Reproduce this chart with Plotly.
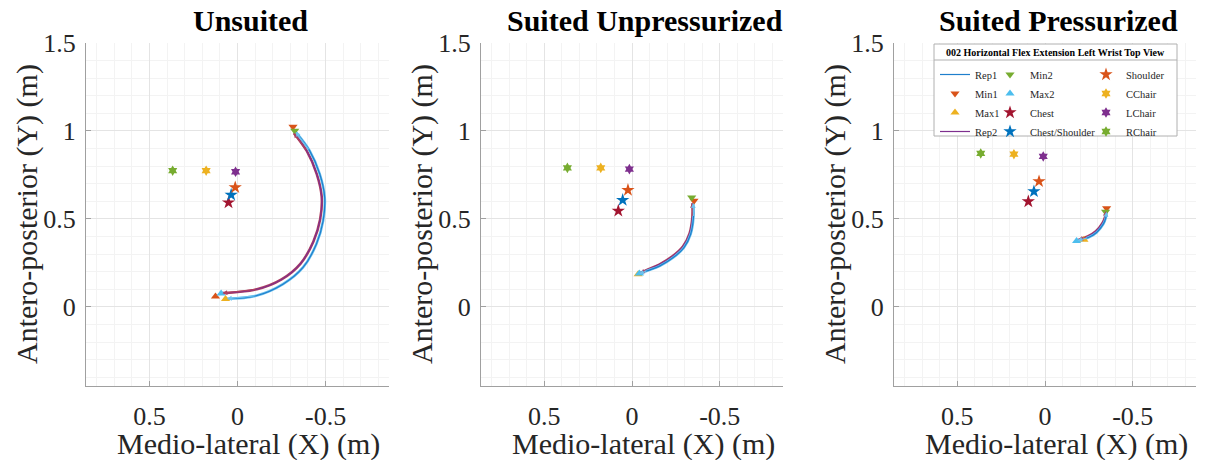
import plotly.graph_objects as go

# the page is shown with the browser's default 8px body margin
OFF = 8
W, H = 1217 - OFF, 460 - OFF
FONT = "Liberation Serif"


def fx(px):
    return (px - OFF) / W


def fy(py):
    return 1 - (py - OFF) / H


# ---------------- data ----------------
panel_titles = ["Unsuited", "Suited Unpressurized", "Suited Pressurized"]
x_label = "Medio-lateral (X) (m)"
y_label = "Antero-posterior (Y) (m)"
legend_title = "002 Horizontal Flex Extension Left Wrist Top View"

x_tick_vals = [0.5, 0, -0.5]
x_tick_text = ["0.5", "0", "-0.5"]
y_tick_vals = [0, 0.5, 1, 1.5]
y_tick_text = ["0", "0.5", "1", "1.5"]

# wrist trajectories (one list per panel)
rep1_x = [
    [-0.330, -0.410, -0.467, -0.495, -0.486, -0.448, -0.372, -0.258, -0.106, 0.060],
    [-0.349, -0.350, -0.334, -0.296, -0.235, -0.159, -0.087, -0.040],
    [-0.351, -0.346, -0.332, -0.294, -0.247, -0.185],
]
rep1_y = [
    [0.995, 0.887, 0.755, 0.622, 0.489, 0.357, 0.224, 0.129, 0.063, 0.046],
    [0.590, 0.508, 0.413, 0.337, 0.280, 0.233, 0.205, 0.188],
    [0.540, 0.505, 0.470, 0.423, 0.394, 0.376],
]
rep2_x = [
    [-0.320, -0.394, -0.450, -0.478, -0.469, -0.431, -0.358, -0.250, -0.110, 0.085],
    [-0.344, -0.344, -0.328, -0.290, -0.230, -0.155, -0.085, -0.045],
    [-0.347, -0.342, -0.327, -0.290, -0.243, -0.190],
]
rep2_y = [
    [0.988, 0.885, 0.755, 0.625, 0.497, 0.372, 0.246, 0.156, 0.100, 0.078],
    [0.590, 0.510, 0.418, 0.343, 0.287, 0.240, 0.210, 0.192],
    [0.545, 0.510, 0.476, 0.430, 0.400, 0.380],
]

# landmarks: index = panel
min1_x = [-0.315, -0.353, -0.351]
min1_y = [1.024, 0.603, 0.560]
max1_x = [0.068, -0.035, -0.222]
max1_y = [0.044, 0.185, 0.381]
min2_x = [-0.325, -0.340, -0.345]
min2_y = [1.001, 0.622, 0.540]
max2_x = [0.093, -0.042, -0.180]
max2_y = [0.076, 0.189, 0.375]
chest_x = [0.051, 0.078, 0.095]
chest_y = [0.593, 0.546, 0.599]
chest_sh_x = [0.036, 0.053, 0.063]
chest_sh_y = [0.637, 0.607, 0.656]
shoulder_x = [0.013, 0.023, 0.034]
shoulder_y = [0.679, 0.664, 0.713]
cchair_x = [0.178, 0.178, 0.177]
cchair_y = [0.774, 0.790, 0.868]
lchair_x = [0.011, 0.015, 0.010]
lchair_y = [0.768, 0.783, 0.855]
rchair_x = [0.368, 0.368, 0.366]
rchair_y = [0.774, 0.790, 0.872]
# extra start marker visible in the first panel
extra_x = [0.125]
extra_y = [0.059]

# ---------------- styles ----------------
C_BLUE = "#0072BD"
C_ORANGE = "#D95319"
C_YELLOW = "#EDB120"
C_PURPLE = "#7E2F8E"
C_GREEN = "#77AC30"
C_CYAN = "#4DBEEE"
C_RED = "#A2142F"

markers = [
    # name, xs, ys, symbol, color, size, legend, rank
    ("Min1", min1_x, min1_y, "triangle-down", C_ORANGE, 8, "legend", 2),
    ("Max1", max1_x, max1_y, "triangle-up", C_YELLOW, 8, "legend", 3),
    ("Min2", min2_x, min2_y, "triangle-down", C_GREEN, 8, "legend2", 5),
    ("Max2", max2_x, max2_y, "triangle-up", C_CYAN, 8, "legend2", 6),
    ("Chest", chest_x, chest_y, "star", C_RED, 10, "legend2", 7),
    ("Chest/Shoulder", chest_sh_x, chest_sh_y, "star", C_BLUE, 10, "legend2", 8),
    ("Shoulder", shoulder_x, shoulder_y, "star", C_ORANGE, 10, "legend3", 9),
    ("CChair", cchair_x, cchair_y, "hexagram", C_YELLOW, 8, "legend3", 10),
    ("LChair", lchair_x, lchair_y, "hexagram", C_PURPLE, 8, "legend3", 11),
    ("RChair", rchair_x, rchair_y, "hexagram", C_GREEN, 8, "legend3", 12),
]

# layout in page pixels
x_domains_px = [(86, 389), (481, 783), (894, 1196)]
y_domain_px = (43, 386)
x_range = [0.86, -0.86]
y_range = [-0.45, 1.5]

fig = go.Figure()
annotations = []

for p in range(3):
    xr = "x" if p == 0 else f"x{p+1}"
    yr = "y" if p == 0 else f"y{p+1}"
    show = p == 2

    reps = [
        ("Rep2", rep2_x[p], rep2_y[p], C_PURPLE, "#b0405e", "legend", 4),
        ("Rep1", rep1_x[p], rep1_y[p], "#1f7fcc", "#6cc2ef", "legend", 1),
    ]
    for name, xs, ys, col, halo, lg, rank in reps:
        fig.add_trace(go.Scatter(x=xs, y=ys, mode="lines", xaxis=xr, yaxis=yr,
                                 line=dict(color=halo, width=2.6, shape="spline"),
                                 showlegend=False, hoverinfo="skip"))
        fig.add_trace(go.Scatter(x=xs, y=ys, mode="lines", name=name, xaxis=xr, yaxis=yr,
                                 line=dict(color=col, width=1.2, shape="spline"),
                                 showlegend=show, legend=lg, legendrank=rank))
        # arrowheads at both ends, direction from the trajectory itself
        for (x_tip, y_tip, x_tail, y_tail) in [(xs[0], ys[0], xs[1], ys[1]),
                                               (xs[-1], ys[-1], xs[-2], ys[-2])]:
            annotations.append(dict(
                x=x_tip, y=y_tip, ax=x_tail, ay=y_tail,
                xref=xr, yref=yr, axref=xr, ayref=yr,
                text="", showarrow=True, arrowhead=2, arrowsize=0.8,
                arrowwidth=1.2, arrowcolor=halo, standoff=0))

    if p == 0:
        fig.add_trace(go.Scatter(x=extra_x, y=extra_y, mode="markers", xaxis=xr, yaxis=yr,
                                 marker=dict(symbol="triangle-up", color=C_ORANGE, size=8),
                                 showlegend=False, name="Max1"))

    for name, xs, ys, sym, col, size, lg, rank in markers:
        fig.add_trace(go.Scatter(x=[xs[p]], y=[ys[p]], mode="markers", name=name,
                                 xaxis=xr, yaxis=yr,
                                 marker=dict(symbol=sym, color=col, size=size,
                                             line=dict(width=0)),
                                 showlegend=show, legend=lg, legendrank=rank))

axis_common = dict(
    automargin=False,
    showline=True, linecolor="#a0a0a0", linewidth=1,
    ticks="inside", ticklen=5, tickcolor="#a0a0a0",
    tickfont=dict(family=FONT, size=26, color="#262626"),
    showgrid=True, gridcolor="#e4e4e4", gridwidth=1,
    zeroline=False, mirror=False,
    minor=dict(dtick=0.1, tick0=0, showgrid=True, gridcolor="#f3f3f3", gridwidth=1),
)

layout = dict(width=W, height=H, margin=dict(l=0, r=0, t=0, b=0, autoexpand=False),
              paper_bgcolor="white", plot_bgcolor="white")

yd = [fy(y_domain_px[1]), fy(y_domain_px[0])]
for p in range(3):
    sfx = "" if p == 0 else str(p + 1)
    l, r = x_domains_px[p]
    layout["xaxis" + sfx] = dict(axis_common, domain=[fx(l), fx(r)], range=x_range,
                                 tickvals=x_tick_vals, ticktext=x_tick_text,
                                 anchor="y" + sfx, ticklabelstandoff=7)
    layout["yaxis" + sfx] = dict(axis_common, domain=yd, range=y_range,
                                 tickvals=y_tick_vals, ticktext=y_tick_text,
                                 anchor="x" + sfx, ticklabelstandoff=4)

    cx = (l + r) / 2
    annotations.append(dict(text=f"<b>{panel_titles[p]}</b>", x=fx(cx + 13), y=fy(21),
                            xref="paper", yref="paper", showarrow=False,
                            xanchor="center", yanchor="middle",
                            font=dict(family=FONT, size=30, color="black")))
    annotations.append(dict(text=x_label, x=fx(cx + 11), y=fy(444),
                            xref="paper", yref="paper", showarrow=False,
                            xanchor="center", yanchor="middle",
                            font=dict(family=FONT, size=30, color="#262626")))
    annotations.append(dict(text=y_label, x=fx(l - 59), y=fy(214),
                            xref="paper", yref="paper", showarrow=False, textangle=-90,
                            xanchor="center", yanchor="middle",
                            font=dict(family=FONT, size=30, color="#262626")))

# legend box (title row + entries)
LB = dict(x0=934, x1=1177, y0=44, y1=136, sep=60)
layout["shapes"] = [
    dict(type="rect", xref="paper", yref="paper", layer="above",
         x0=fx(LB["x0"]), x1=fx(LB["x1"]), y0=fy(LB["y1"]), y1=fy(LB["y0"]),
         fillcolor="white", line=dict(color="#b0b0b0", width=1)),
    dict(type="line", xref="paper", yref="paper", layer="above",
         x0=fx(LB["x0"]), x1=fx(LB["x1"]), y0=fy(LB["sep"]), y1=fy(LB["sep"]),
         line=dict(color="#b0b0b0", width=1)),
]
annotations.append(dict(text=f"<b>{legend_title}</b>", x=fx((LB["x0"] + LB["x1"]) / 2),
                        y=fy(52), xref="paper", yref="paper", showarrow=False,
                        xanchor="center", yanchor="middle",
                        font=dict(family=FONT, size=10, color="black")))

leg_common = dict(xanchor="left", yanchor="top", bgcolor="rgba(0,0,0,0)",
                  borderwidth=0, tracegroupgap=0, itemwidth=30,
                  font=dict(family=FONT, size=10.5, color="#262626"))
layout["legend"] = dict(leg_common, x=fx(935), y=fy(60))
layout["legend2"] = dict(leg_common, x=fx(990), y=fy(60))
layout["legend3"] = dict(leg_common, x=fx(1086), y=fy(60))
layout["annotations"] = annotations

fig.update_layout(layout)
fig.write_html("out.html")
